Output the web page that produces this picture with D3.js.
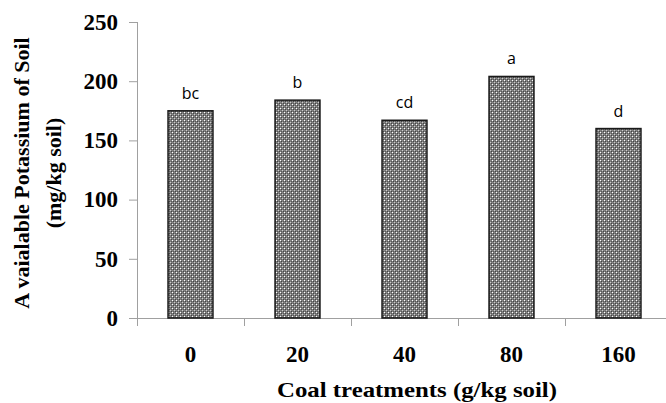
<!DOCTYPE html>
<html>
<head>
<meta charset="utf-8">
<script src="https://cdn.jsdelivr.net/npm/d3@7"></script>
<style>
  body { margin: 0; background: #fff; }
  svg { display: block; }
</style>
</head>
<body>
<div id="chart"></div>
<script>
var treatments = ["0", "20", "40", "80", "160"];
var potassium = [175, 184, 167, 204, 160];
var letters = ["bc", "b", "cd", "a", "d"];
var yTicks = [0, 50, 100, 150, 200, 250];

var width = 666, height = 403;

var svg = d3.select("#chart")
  .append("svg")
  .attr("width", width)
  .attr("height", height);

// dithered grey fill like the original
var pat = svg.append("defs")
  .append("pattern")
  .attr("id", "dots")
  .attr("patternUnits", "userSpaceOnUse")
  .attr("width", 4)
  .attr("height", 4);
pat.append("rect").attr("width", 4).attr("height", 4).attr("fill", "#808080");
pat.append("rect").attr("x", 0).attr("y", 0).attr("width", 1).attr("height", 1).attr("fill", "#ffffff");
pat.append("rect").attr("x", 2).attr("y", 2).attr("width", 1).attr("height", 1).attr("fill", "#cccccc");
pat.append("rect").attr("x", 1).attr("y", 1).attr("width", 1).attr("height", 1).attr("fill", "#444444");
pat.append("rect").attr("x", 3).attr("y", 3).attr("width", 1).attr("height", 1).attr("fill", "#444444");
pat.append("rect").attr("x", 1).attr("y", 3).attr("width", 1).attr("height", 1).attr("fill", "#5a5a5a");
pat.append("rect").attr("x", 3).attr("y", 1).attr("width", 1).attr("height", 1).attr("fill", "#5a5a5a");

var x = d3.scaleBand()
  .domain(treatments)
  .range([137, 672])
  .paddingInner(0.58)
  .paddingOuter(0.29);

var y = d3.scaleLinear()
  .domain([0, 250])
  .range([318, 22]);

var serif = "'Liberation Serif', 'Times New Roman', serif";

// y axis
var yAxis = svg.append("g")
  .attr("transform", "translate(137,0)")
  .call(d3.axisLeft(y).tickValues(yTicks).tickSize(8).tickPadding(11));
yAxis.select(".domain").attr("stroke", "#a0a0a0").attr("d", "M0.5,22V318");
yAxis.selectAll(".tick line").attr("stroke", "#a0a0a0");
yAxis.selectAll(".tick text")
  .attr("font-family", serif)
  .attr("font-weight", "bold")
  .attr("font-size", "23px")
  .attr("fill", "#000");

// x axis with ticks between the categories
var xAxis = svg.append("g").attr("transform", "translate(0,318)");
xAxis.append("line")
  .attr("x1", 129).attr("x2", 672)
  .attr("y1", 0.5).attr("y2", 0.5)
  .attr("stroke", "#a0a0a0");
xAxis.selectAll("line.sep")
  .data(treatments)
  .enter()
  .append("line")
  .attr("class", "sep")
  .attr("x1", function(d) { return Math.round(x(d) - x.step() * x.paddingInner() / 2) + 0.5; })
  .attr("x2", function(d) { return Math.round(x(d) - x.step() * x.paddingInner() / 2) + 0.5; })
  .attr("y1", 0)
  .attr("y2", 8)
  .attr("stroke", "#a0a0a0");
xAxis.selectAll("text")
  .data(treatments)
  .enter()
  .append("text")
  .attr("x", function(d) { return x(d) + x.bandwidth() / 2; })
  .attr("y", 44)
  .attr("text-anchor", "middle")
  .attr("font-family", serif)
  .attr("font-weight", "bold")
  .attr("font-size", "23px")
  .text(function(d) { return d; });

// bars
svg.selectAll("rect.bar")
  .data(potassium)
  .enter()
  .append("rect")
  .attr("class", "bar")
  .attr("x", function(d, i) { return x(treatments[i]); })
  .attr("y", function(d) { return y(d); })
  .attr("width", x.bandwidth())
  .attr("height", function(d) { return y(0) - y(d); })
  .attr("fill", "url(#dots)")
  .attr("stroke", "#1a1a1a")
  .attr("stroke-width", 1.5);

// significance letters
svg.selectAll("text.letter")
  .data(potassium)
  .enter()
  .append("text")
  .attr("class", "letter")
  .attr("x", function(d, i) { return x(treatments[i]) + x.bandwidth() / 2; })
  .attr("y", function(d) { return y(d) - 12; })
  .attr("text-anchor", "middle")
  .attr("font-family", "'Open Sans', 'Noto Sans', sans-serif")
  .attr("font-size", "16px")
  .attr("fill", "#000")
  .text(function(d, i) { return letters[i]; });

// axis titles
var yTitle = svg.append("g")
  .attr("transform", "translate(0,173) rotate(-90)")
  .attr("font-family", serif)
  .attr("font-weight", "bold")
  .attr("font-size", "22px")
  .attr("text-anchor", "middle");
yTitle.append("text").attr("x", 0).attr("y", 29).text("A vaialable Potassium of Soil");
yTitle.append("text").attr("x", 0).attr("y", 61).text("(mg/kg soil)");

svg.append("text")
  .attr("x", 417)
  .attr("y", 397)
  .attr("text-anchor", "middle")
  .attr("font-family", serif)
  .attr("font-weight", "bold")
  .attr("font-size", "21px")
  .attr("textLength", 280)
  .attr("lengthAdjust", "spacingAndGlyphs")
  .text("Coal treatments (g/kg soil)");
</script>
</body>
</html>
